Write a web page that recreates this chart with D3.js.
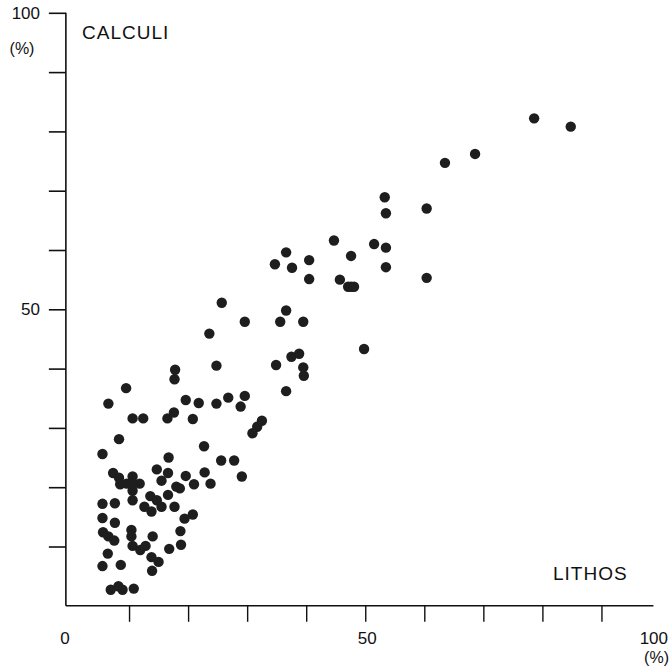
<!DOCTYPE html>
<html>
<head>
<meta charset="utf-8">
<script src="https://cdn.jsdelivr.net/npm/d3@7"></script>
<style>
  body { margin: 0; background: #fff; }
  text { font-family: "Liberation Sans", Arial, sans-serif; fill: #111; }
</style>
</head>
<body>
<div id="chart"></div>
<script>
// LITHOS (x, %) vs CALCULI (y, %)
const lithos = [
  78.6, 84.8, 68.6, 63.5, 60.4, 60.4, 53.3, 53.5, 44.7, 51.5,
  53.5, 47.6, 36.6, 34.7, 37.6, 40.5, 53.5, 40.5, 45.7, 47.1,
  47.6, 48.1, 25.7, 36.6, 29.6, 35.6, 39.5, 23.6, 49.8, 37.5,
  38.8, 34.9, 39.5, 39.6, 24.8, 36.6, 21.8, 24.8, 26.8, 29.6,
  28.9, 32.5, 31.7, 30.9, 22.7, 25.6, 27.8, 22.8, 29.1, 23.8,
  17.8, 17.7, 9.5, 6.5, 19.6, 10.6, 12.4, 16.5, 17.6, 20.8,
  8.3, 5.5, 16.7, 14.7, 16.6, 19.6, 21.0, 7.3, 8.3, 8.5,
  9.6, 10.6, 10.6, 11.8, 10.6, 10.6, 15.5, 18.0, 18.6, 16.6,
  13.6, 14.7, 15.5, 12.6, 13.8, 17.7, 5.5, 7.6, 19.4, 20.8,
  5.5, 7.6, 5.6, 6.5, 7.5, 10.4, 10.4, 10.6, 11.9, 12.8,
  14.0, 18.7, 16.8, 18.8, 6.4, 13.8, 15.0, 5.5, 8.6, 13.9,
  6.9, 8.2, 8.9, 10.8
];
const calculi = [
  82.2, 80.8, 76.2, 74.7, 67.0, 55.3, 68.9, 66.2, 61.6, 61.0,
  60.4, 59.0, 59.6, 57.6, 57.0, 58.3, 57.1, 55.1, 55.0, 53.8,
  53.8, 53.8, 51.1, 49.8, 47.9, 47.9, 47.9, 45.9, 43.3, 42.0,
  42.5, 40.6, 40.2, 38.8, 40.5, 36.2, 34.2, 34.1, 35.1, 35.4,
  33.6, 31.2, 30.2, 29.1, 26.9, 24.5, 24.5, 22.5, 21.8, 20.6,
  39.8, 38.2, 36.7, 34.1, 34.7, 31.6, 31.6, 31.6, 32.6, 31.5,
  28.1, 25.6, 25.0, 23.0, 22.4, 21.9, 20.5, 22.4, 21.6, 20.5,
  20.6, 21.8, 20.6, 20.6, 19.4, 17.8, 21.1, 20.1, 19.8, 18.7,
  18.5, 17.8, 16.7, 16.7, 15.9, 16.7, 17.2, 17.3, 14.7, 15.4,
  14.8, 14.0, 12.4, 11.7, 11.0, 12.8, 11.7, 10.1, 9.4, 10.1,
  11.7, 12.6, 9.6, 10.3, 8.8, 8.2, 7.4, 6.7, 6.9, 5.9,
  2.7, 3.3, 2.7, 2.9
];

const xTicks = [10, 20, 30, 40, 50, 60, 70, 80, 90];
const yTicks = [10, 20, 30, 40, 50, 60, 70, 80, 90, 100];
const xLabels = [0, 50, 100];
const yLabels = [50, 100];

let width = 672, height = 669;

let x = d3.scaleLinear().domain([0, 100]).range([70, 660.5]);
let y = d3.scaleLinear().domain([0, 100]).range([605.8, 12.8]);

let svg = d3.select("#chart").append("svg")
    .attr("width", width)
    .attr("height", height);

let xEnd = 98.8;      // the drawn x axis stops a bit short of 100
let yAxisAt = -0.7;   // y axis sits just left of x = 0

// y axis
let yAxis = svg.append("g")
    .attr("transform", "translate(" + x(yAxisAt) + ",0)")
    .call(d3.axisLeft(y).tickValues(yTicks).tickSize(17).tickSizeOuter(0).tickFormat(""));
yAxis.select(".domain").remove();
yAxis.selectAll("line").attr("stroke", "#111").attr("stroke-width", 1.6);
yAxis.append("line")
    .attr("x1", 0).attr("x2", 0)
    .attr("y1", y(0)).attr("y2", y(100))
    .attr("stroke", "#111").attr("stroke-width", 1.6);

// x axis
let xAxis = svg.append("g")
    .attr("transform", "translate(0," + y(0) + ")")
    .call(d3.axisBottom(x).tickValues(xTicks).tickSize(16).tickSizeOuter(0).tickFormat(""));
xAxis.select(".domain").remove();
xAxis.selectAll("line").attr("stroke", "#111").attr("stroke-width", 1.4);
xAxis.append("line")
    .attr("x1", x(yAxisAt)).attr("x2", x(xEnd))
    .attr("y1", 0).attr("y2", 0)
    .attr("stroke", "#111").attr("stroke-width", 1.6);

// tick labels
svg.selectAll(".ylab")
    .data(yLabels)
  .enter().append("text")
    .attr("class", "ylab")
    .attr("x", 40)
    .attr("y", d => y(d))
    .attr("dy", "0.36em")
    .style("text-anchor", "end")
    .style("font-size", "17px")
    .text(d => d);

svg.append("text")
    .attr("x", 22).attr("y", 54)
    .style("text-anchor", "middle")
    .style("font-size", "16px")
    .text("(%)");

svg.selectAll(".xlab")
    .data(xLabels)
  .enter().append("text")
    .attr("class", "xlab")
    .attr("x", d => d === 100 ? 668 : x(d) - (d === 0 ? 5 : -2))
    .attr("y", 644)
    .style("text-anchor", d => d === 100 ? "end" : "middle")
    .style("font-size", "17px")
    .text(d => d);

svg.append("text")
    .attr("x", 669).attr("y", 663)
    .style("text-anchor", "end")
    .style("font-size", "16px")
    .text("(%)");

// axis titles
svg.append("text")
    .attr("x", 82).attr("y", 39)
    .style("font-size", "19px")
    .style("letter-spacing", "1px")
    .text("CALCULI");

svg.append("text")
    .attr("x", 553).attr("y", 580)
    .style("font-size", "19px")
    .style("letter-spacing", "1px")
    .text("LITHOS");

// points
let pts = lithos.map((d, i) => ({lithos: d, calculi: calculi[i]}));
svg.selectAll(".dot")
    .data(pts)
  .enter().append("circle")
    .attr("class", "dot")
    .attr("cx", d => x(d.lithos))
    .attr("cy", d => y(d.calculi))
    .attr("r", 5.2)
    .attr("fill", "#1e1e1e");
</script>
</body>
</html>
